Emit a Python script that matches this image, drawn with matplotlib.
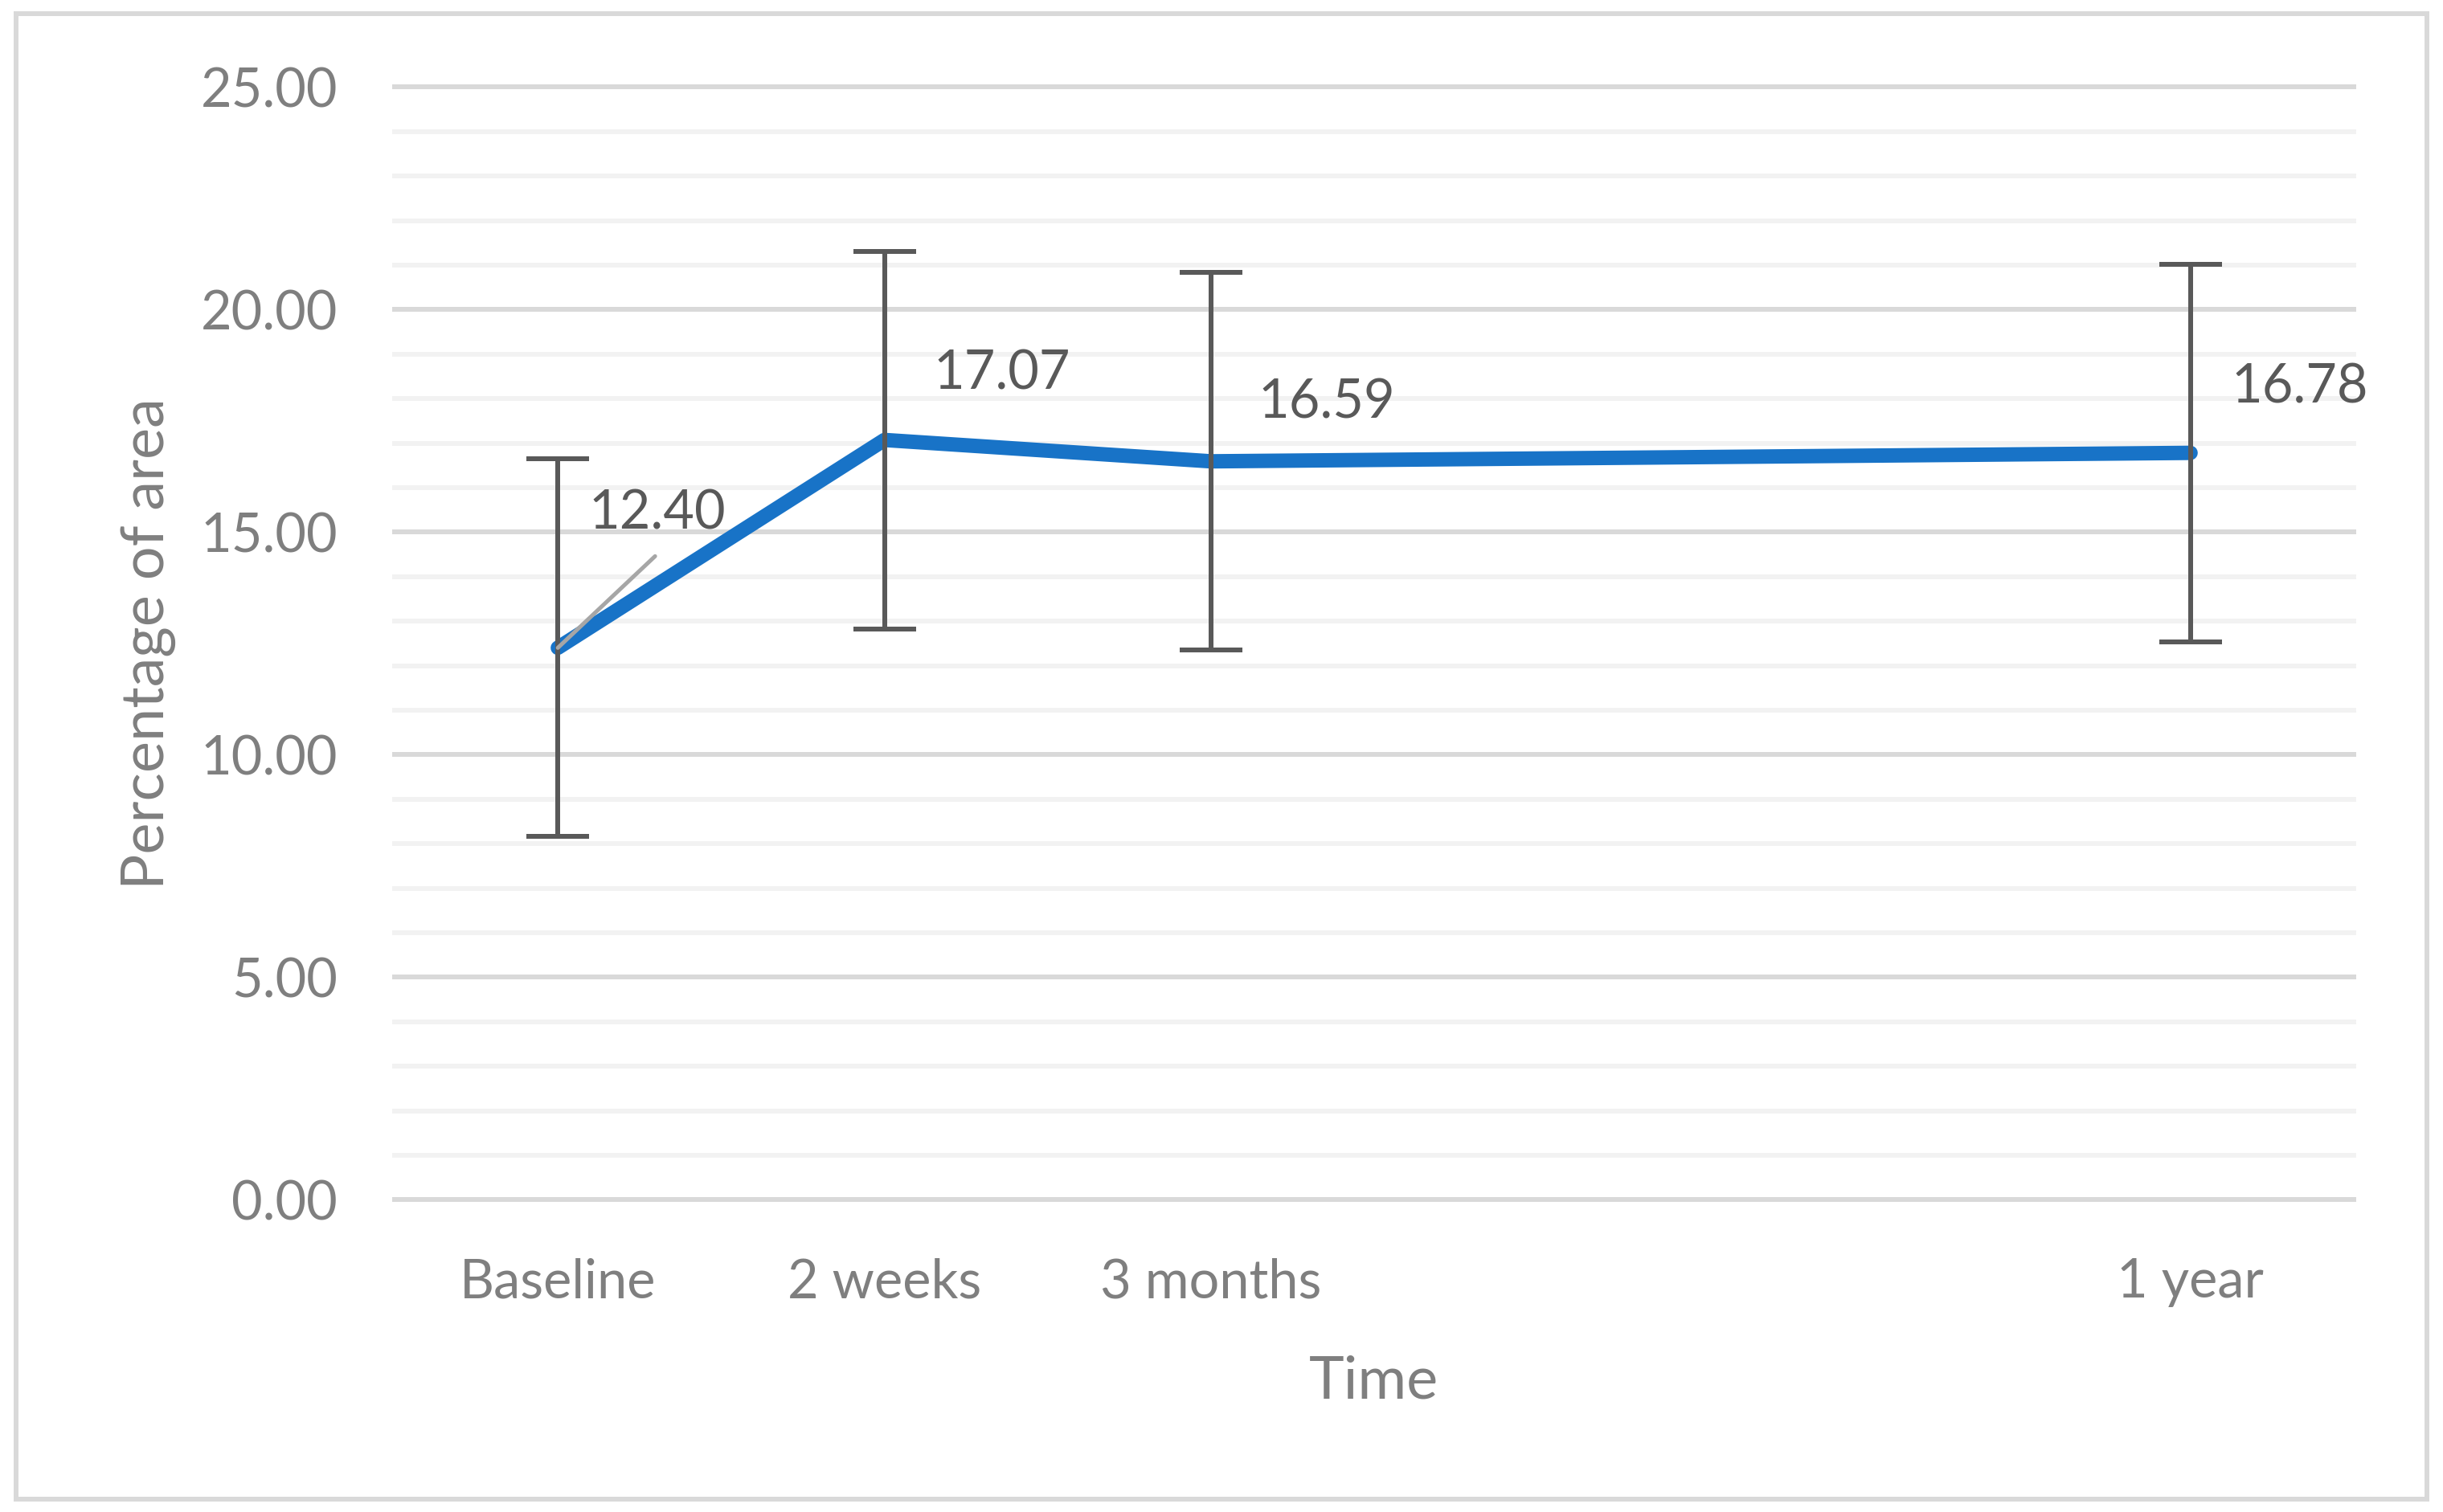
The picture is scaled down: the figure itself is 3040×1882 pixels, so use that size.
import numpy as np
import matplotlib
matplotlib.use("Agg")
import matplotlib.pyplot as plt
from matplotlib.ticker import MultipleLocator
from matplotlib.patches import Rectangle

plt.rcParams['font.family'] = ['Lato', 'DejaVu Sans']

# ---- data ----
categories = ['Baseline', '2 weeks', '3 months', '', '', '1 year']
values = [12.40, 17.07, 16.59, np.nan, np.nan, 16.78]
errors = [4.24, 4.24, 4.24, np.nan, np.nan, 4.24]
value_labels = ['12.40', '17.07', '16.59', '', '', '16.78']
y_title = 'Percentage of area'
x_title = 'Time'

W, H, DPI = 3040, 1882, 200
fig = plt.figure(figsize=(W / DPI, H / DPI), dpi=DPI)
ax = fig.add_axes([491 / W, 1 - 1493.3 / H, (2929 - 491) / W, (1493.3 - 108.3) / H])

x_all = np.arange(len(categories))
vals = np.array(values, dtype=float)
errs = np.array(errors, dtype=float)
mask = ~np.isnan(vals)
xs, ys, es = x_all[mask], vals[mask], errs[mask]

px = 72.0 / DPI  # points per pixel

ax.plot(xs, ys, color='#1873C7', lw=18 * px, solid_capstyle='round',
        solid_joinstyle='round', zorder=3)
ax.errorbar(xs, ys, yerr=es, fmt='none', ecolor='#595959', elinewidth=6 * px,
            capsize=39 * px, capthick=6 * px, zorder=4)

# data labels (offsets in pixels from each point)
label_offsets = {0: (124, 148), 1: (146, 63), 2: (144, 54), 5: (136, 62)}
for i in xs:
    dx, dy = label_offsets[int(i)]
    ax.annotate(value_labels[i], xy=(i, vals[i]), xytext=(dx, dy),
                textcoords='offset pixels', ha='center', va='baseline',
                fontsize=24, color='#595959', zorder=6)
# leader line for the first label
ax.annotate('', xy=(xs[0], ys[0]), xytext=(121, 114), textcoords='offset pixels',
            arrowprops=dict(arrowstyle='-', color='#A6A6A6', lw=5 * px,
                            shrinkA=0, shrinkB=0), zorder=5)

ax.set_xlim(-0.5, len(categories) - 0.5)
ax.set_ylim(0, 25)
ax.yaxis.set_major_locator(MultipleLocator(5))
ax.yaxis.set_minor_locator(MultipleLocator(1))
ax.yaxis.set_major_formatter(matplotlib.ticker.FormatStrFormatter('%.2f'))
ax.set_xticks(xs)
ax.set_xticklabels([categories[i] for i in xs])

ax.grid(axis='y', which='major', color='#D9D9D9', lw=6 * px, zorder=0)
ax.grid(axis='y', which='minor', color='#F2F2F2', lw=6 * px, zorder=0)
ax.grid(axis='x', which='both', visible=False)
for t in ax.yaxis.get_major_ticks() + ax.yaxis.get_minor_ticks():
    t.gridline.set_clip_on(False)
ax.set_axisbelow(True)

for s in ax.spines.values():
    s.set_visible(False)

ax.tick_params(axis='y', which='both', length=0, pad=71 * px, labelsize=24,
               labelcolor='#7F7F7F')
ax.tick_params(axis='x', which='both', length=0, pad=72 * px, labelsize=24,
               labelcolor='#7F7F7F')

ax.set_xlabel(x_title, fontsize=26.6, color='#7F7F7F', va='baseline')
ax.xaxis.set_label_coords(0.5, -(1740 - 1493.3) / (1493.3 - 108.3))
ax.set_ylabel(y_title, fontsize=26.6, color='#7F7F7F', va='baseline')
ax.yaxis.set_label_coords(-(491 - 204) / (2929 - 491), 0.5)

# chart border
fig.patches.append(Rectangle((19.5 / W, 1 - 1866 / H), (3020 - 19.5) / W,
                             (1866 - 16.5) / H, transform=fig.transFigure,
                             fill=False, edgecolor='#D9D9D9', lw=6 * px))

fig.savefig('out.png', dpi=DPI, facecolor='white')
